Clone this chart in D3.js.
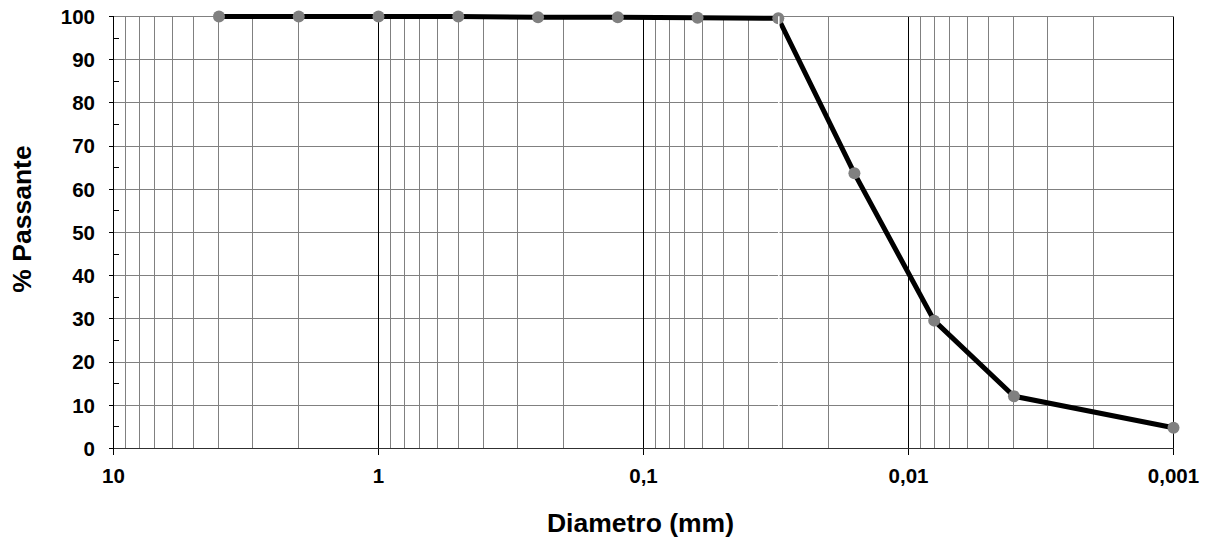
<!DOCTYPE html>
<html>
<head>
<meta charset="utf-8">
<script src="https://cdn.jsdelivr.net/npm/d3@7"></script>
<style>
  html, body { margin: 0; padding: 0; background: #fff; }
  svg { display: block; }
  text { font-family: "Liberation Sans", Arial, sans-serif; font-weight: bold; fill: #000; }
</style>
</head>
<body>
<svg id="chart" width="1208" height="543"></svg>
<script>
// Data
const diameters = [4, 2, 1, 0.5, 0.25, 0.125, 0.0625, 0.031, 0.016, 0.008, 0.004, 0.001];
const passing   = [100, 100, 100, 100, 99.8, 99.8, 99.7, 99.6, 63.7, 29.6, 12.1, 4.8];
const xTickValues = [10, 1, 0.1, 0.01, 0.001];
const xTickLabels = ["10", "1", "0,1", "0,01", "0,001"];
const yTickValues = [0, 10, 20, 30, 40, 50, 60, 70, 80, 90, 100];
const yMinorTicks = [5, 15, 25, 35, 45, 55, 65, 75, 85, 95];
const xTitle = "Diametro (mm)";
const yTitle = "% Passante";

const L = 113.5, R = 1173.5, T = 16.5, B = 448.5;
const svg = d3.select("#chart");
const x = d3.scaleLog().domain([10, 0.001]).range([L, R]);
const y = d3.scaleLinear().domain([0, 100]).range([B, T]);

const isDecade = v => Math.abs(Math.log10(v) - Math.round(Math.log10(v))) < 1e-9;
const px = v => Math.round(v - 0.5) + 0.5;

const grid = svg.append("g").attr("shape-rendering", "crispEdges");
// horizontal gridlines
grid.append("g").selectAll("line").data(yTickValues.filter(v => v > 0)).join("line")
  .attr("x1", L).attr("x2", R)
  .attr("y1", d => px(y(d))).attr("y2", d => px(y(d)))
  .attr("stroke", "#808080").attr("stroke-width", 1);

// vertical gridlines
const vt = x.ticks();
grid.append("g").selectAll("line").data(vt.filter(v => !isDecade(v))).join("line")
  .attr("x1", d => px(x(d))).attr("x2", d => px(x(d)))
  .attr("y1", T).attr("y2", B)
  .attr("stroke", "#808080").attr("stroke-width", 1);
grid.append("g").selectAll("line").data(xTickValues).join("line")
  .attr("x1", d => px(x(d))).attr("x2", d => px(x(d)))
  .attr("y1", T).attr("y2", B + 6)
  .attr("stroke", "#000").attr("stroke-width", 1);

// y axis
grid.append("line").attr("x1", L).attr("x2", L).attr("y1", T).attr("y2", B + 1)
  .attr("stroke", "#000").attr("stroke-width", 1);
grid.append("g").selectAll("line").data(yTickValues).join("line")
  .attr("x1", L - 5).attr("x2", L)
  .attr("y1", d => px(y(d))).attr("y2", d => px(y(d)))
  .attr("stroke", "#000");
grid.append("g").selectAll("line").data(yMinorTicks).join("line")
  .attr("x1", L).attr("x2", L + 5)
  .attr("y1", d => px(y(d))).attr("y2", d => px(y(d)))
  .attr("stroke", "#000");
// x axis
grid.append("line").attr("x1", L).attr("x2", R).attr("y1", B).attr("y2", B)
  .attr("stroke", "#303030").attr("stroke-width", 1);

// tick labels
svg.append("g").selectAll("text").data(yTickValues).join("text")
  .attr("x", 95).attr("y", d => y(d)).attr("dy", "0.36em")
  .attr("text-anchor", "end").style("font-size", "20.5px")
  .text(d => d);
svg.append("g").selectAll("text").data(xTickValues).join("text")
  .attr("x", d => x(d)).attr("y", 483)
  .attr("text-anchor", "middle").style("font-size", "20.5px")
  .text((d, i) => xTickLabels[i]);

// titles
svg.append("text").attr("x", (L + R) / 2 - 3).attr("y", 532)
  .attr("text-anchor", "middle").style("font-size", "26.5px").text(xTitle);
svg.append("text").attr("transform", `translate(31, 219) rotate(-90)`)
  .attr("text-anchor", "middle").style("font-size", "26.5px").text(yTitle);

// series line
const line = d3.line().x((d, i) => x(diameters[i])).y(d => y(d));
svg.append("path").datum(passing).attr("d", line)
  .attr("fill", "none").attr("stroke", "#000").attr("stroke-width", 5)
  .attr("stroke-linejoin", "round");

// markers
svg.append("g").selectAll("circle").data(passing).join("circle")
  .attr("cx", (d, i) => x(diameters[i])).attr("cy", d => y(d)).attr("r", 6)
  .attr("fill", "#808080");

// white artifact line at the 0.031 point
svg.append("line")
  .attr("x1", x(diameters[7]) + 0.5).attr("x2", x(diameters[7]) + 0.5)
  .attr("y1", y(passing[7]) - 2).attr("y2", B - 1)
  .attr("stroke", "#fff").attr("stroke-width", 1.5);
</script>
</body>
</html>
